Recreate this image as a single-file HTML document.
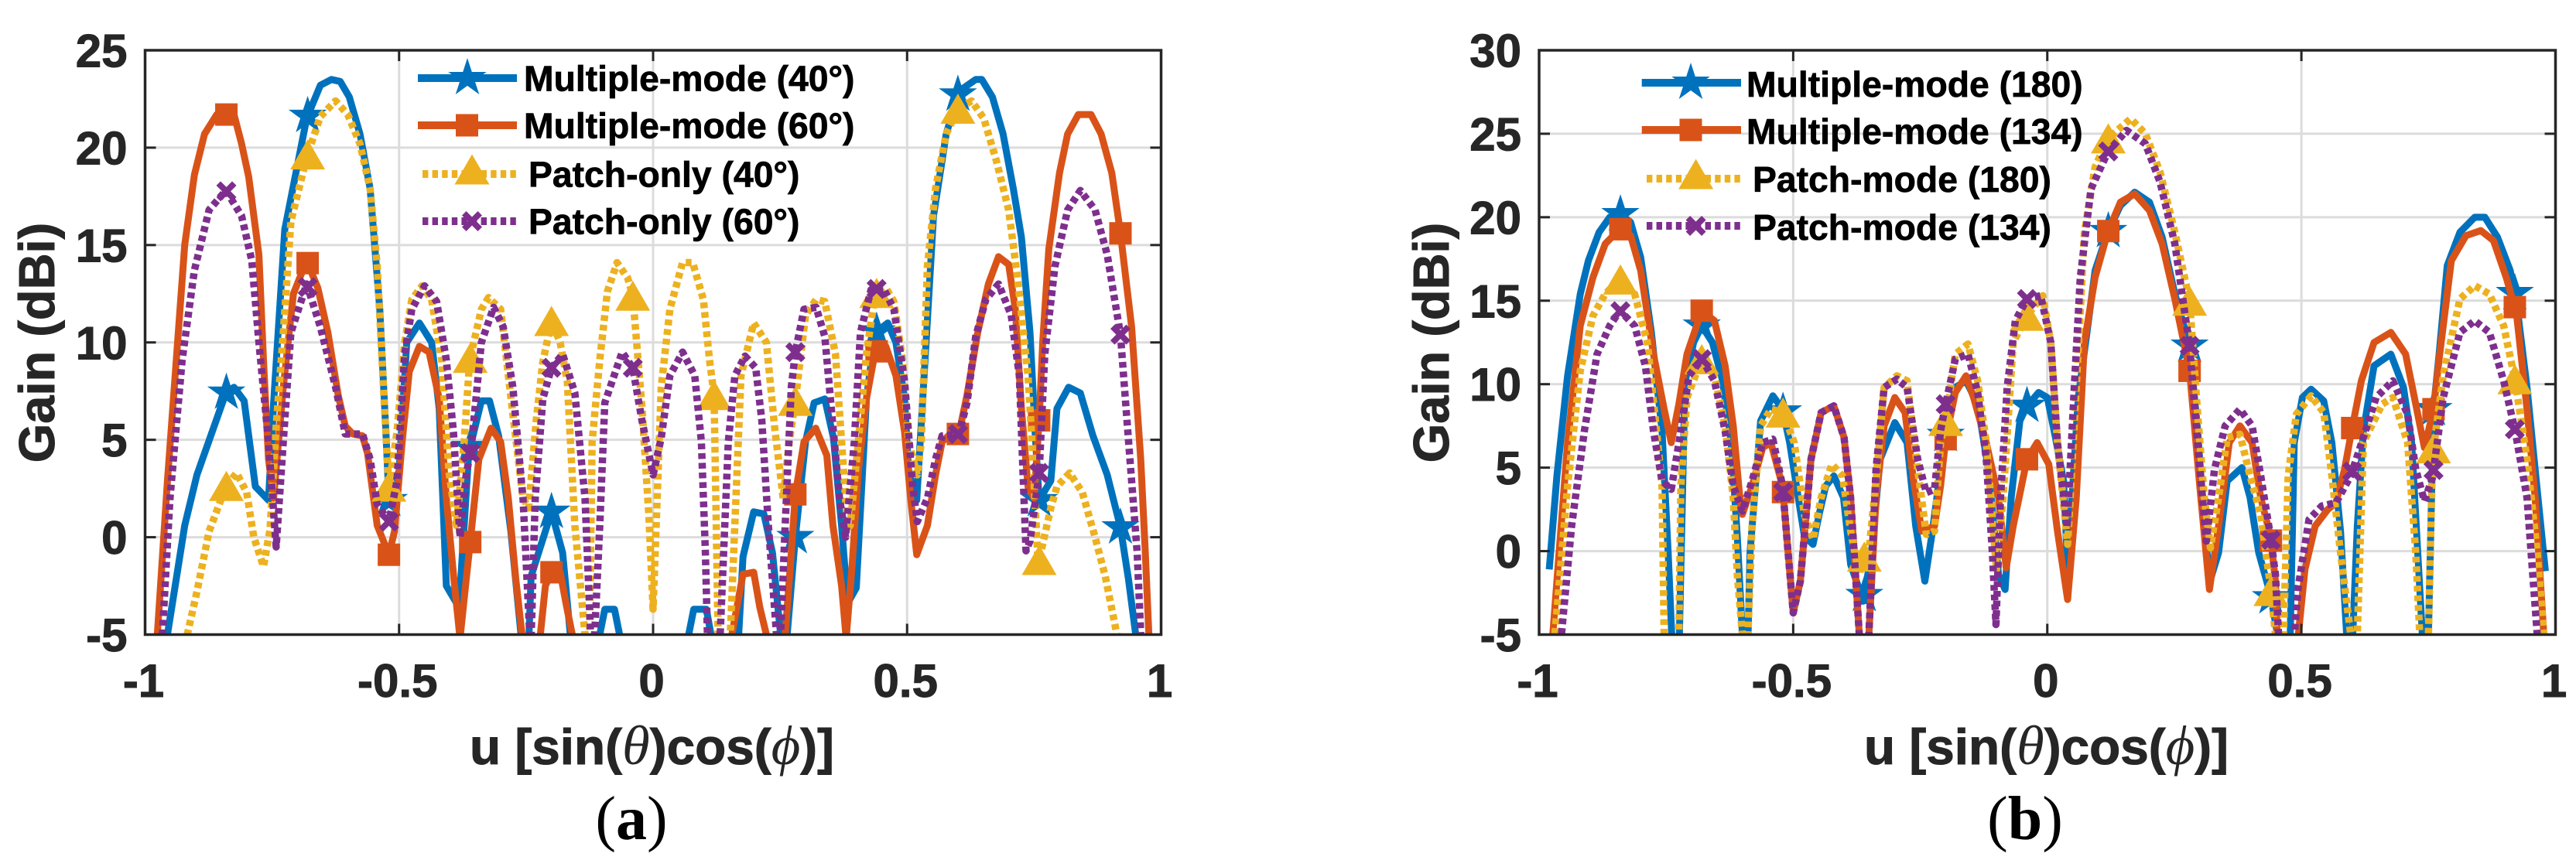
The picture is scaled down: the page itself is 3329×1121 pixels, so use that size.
<!DOCTYPE html>
<html lang="en">
<head>
<meta charset="utf-8">
<title>Gain patterns (a) and (b)</title>
<style>
html,body{margin:0;padding:0;background:#fff;}
svg{display:block;}
text{font-family:"Liberation Sans",sans-serif;font-weight:bold;}
.tick{font-size:60px;fill:#262626;stroke:#262626;stroke-width:1;}
.ttl{font-size:65px;fill:#262626;stroke:#262626;stroke-width:1;}
.leg{font-size:46.3px;fill:#000;stroke:#000;stroke-width:0.7;}
.cap{font-family:"Liberation Serif",serif;font-size:80px;fill:#000;font-weight:normal;}
.cap tspan.b{font-weight:bold;}
.gk{font-family:"Liberation Serif","DejaVu Serif",serif;font-style:italic;font-weight:normal;font-size:72px;stroke:none;}
</style>
</head>
<body>
<svg id="root" xmlns="http://www.w3.org/2000/svg" width="3329" height="1121" viewBox="0 0 3329 1121">
<rect x="0" y="0" width="3329" height="1121" fill="#fff"/>
<g id="panelA"></g>
<g id="panelB"></g>

<text class="ttl" transform="translate(70,443) rotate(-90)" text-anchor="middle">Gain (dBi)</text>
<text class="ttl" transform="translate(1872,443) rotate(-90)" text-anchor="middle">Gain (dBi)</text>
<text class="ttl" x="607" y="988" textLength="471" lengthAdjust="spacingAndGlyphs">u [sin(<tspan class="gk">θ</tspan>)cos(<tspan class="gk">ϕ</tspan>)]</text>
<text class="ttl" x="2409" y="988" textLength="471" lengthAdjust="spacingAndGlyphs">u [sin(<tspan class="gk">θ</tspan>)cos(<tspan class="gk">ϕ</tspan>)]</text>
<text class="cap" x="816" y="1085" text-anchor="middle">(<tspan class="b">a</tspan>)</text>
<text class="cap" x="2617" y="1085" text-anchor="middle">(<tspan class="b">b</tspan>)</text>

<g id="legendA">
<text class="leg" x="677" y="117.7">Multiple-mode (40°)</text>
<text class="leg" x="677" y="178.3">Multiple-mode (60°)</text>
<text class="leg" x="683" y="241.7">Patch-only (40°)</text>
<text class="leg" x="683" y="302.3">Patch-only (60°)</text>
</g>
<g id="legendB">
<text class="leg" x="2257" y="125">Multiple-mode (180)</text>
<text class="leg" x="2257" y="186">Multiple-mode (134)</text>
<text class="leg" x="2265" y="248">Patch-mode (180)</text>
<text class="leg" x="2265" y="310">Patch-mode (134)</text>
</g>
</svg>
<script>
// ---------- shared axis data ----------
const xTicks = [-1, -0.5, 0, 0.5, 1];
const xTickLabels = ['-1', '-0.5', '0', '0.5', '1'];
const yTicksA = [-5, 0, 5, 10, 15, 20, 25];
const yTickLabelsA = ['-5', '0', '5', '10', '15', '20', '25'];
const yTicksB = [-5, 0, 5, 10, 15, 20, 25, 30];
const yTickLabelsB = ['-5', '0', '5', '10', '15', '20', '25', '30'];
const markerU = [-0.84, -0.68, -0.52, -0.36, -0.2, -0.04, 0.12, 0.28, 0.44, 0.6, 0.76, 0.92];

// ---------- panel (a) ----------
const aMulti40U = [-0.97,-0.956,-0.922,-0.898,-0.841,-0.825,-0.805,-0.783,-0.757,-0.747,
-0.725,-0.682,-0.655,-0.633,-0.616,-0.598,-0.577,-0.557,-0.538,-0.526,
-0.52,-0.5,-0.485,-0.46,-0.436,-0.421,-0.407,-0.382,-0.363,-0.338,
-0.322,-0.304,-0.28,-0.26,-0.25,-0.24,-0.2,-0.178,-0.163,-0.13,
-0.115,-0.105,-0.095,-0.076,-0.066,-0.05,0.05,0.07,0.08,0.105,
0.114,0.13,0.16,0.177,0.198,0.218,0.235,0.251,0.258,0.264,
0.28,0.3,0.317,0.338,0.355,0.371,0.383,0.4,0.42,0.437,
0.462,0.478,0.495,0.503,0.519,0.536,0.552,0.577,0.602,0.635,
0.647,0.668,0.689,0.709,0.725,0.742,0.752,0.76,0.783,0.795,
0.818,0.841,0.866,0.894,0.92,0.936,0.95,0.965];
const aMulti40Gain = [-9,-5,0.6,3.2,7.4,7.7,7,2.6,1.9,6.9,
15.8,21.5,23.2,23.5,23.4,22.6,20.7,17.9,11.7,5.4,
1.9,3.4,10,11,10,6.6,-2.5,-3.6,4.3,7,
7,5.2,0.3,-5,-9,-2,1.3,-0.8,-5,-9,
-9,-5,-3.7,-3.7,-5,-9,-9,-5,-3.7,-3.7,
-5,-9,-9,-1,1.3,1.2,-0.8,-5,-9,-5,
0,4.9,6.9,7.1,5.1,0.6,-3.4,-2.6,7.1,10.5,
11,10,7.1,3.4,1.9,9.4,16.5,20.7,22.9,23.5,
23.5,22.6,20.7,17.9,15.4,10.5,5.4,1.9,2.9,6.6,
7.7,7.4,5.2,3.2,0.5,-2.2,-5,-9];

const aMulti60U = [-0.985,-0.976,-0.956,-0.922,-0.903,-0.883,-0.859,-0.841,-0.825,-0.81,
-0.796,-0.776,-0.767,-0.757,-0.747,-0.728,-0.708,-0.682,-0.66,-0.64,
-0.62,-0.606,-0.591,-0.572,-0.562,-0.543,-0.52,-0.509,-0.494,-0.48,
-0.46,-0.441,-0.421,-0.407,-0.392,-0.38,-0.368,-0.361,-0.343,-0.319,
-0.3,-0.285,-0.27,-0.258,-0.25,-0.23,-0.222,-0.212,-0.2,-0.183,
-0.17,-0.159,-0.14,0.14,0.155,0.177,0.198,0.21,0.223,0.235,
0.25,0.26,0.272,0.28,0.297,0.32,0.342,0.354,0.371,0.38,
0.392,0.404,0.42,0.437,0.458,0.478,0.495,0.507,0.519,0.54,
0.556,0.569,0.585,0.602,0.618,0.639,0.66,0.68,0.7,0.713,
0.725,0.738,0.75,0.76,0.767,0.779,0.8,0.816,0.837,0.862,
0.882,0.903,0.92,0.942,0.96,0.969,0.976,0.985];
const aMulti60Gain = [-9,-5,2.9,15,18.6,20.7,21.7,21.7,21.7,20.2,
18.5,14.5,9.1,4,2,7.7,12.5,14.2,12.8,10.5,
7.3,5.7,5.3,5.2,4.3,0.6,-0.9,0.3,4.9,8.5,
9.8,9.5,7.1,2,-2.2,-5.2,-2.2,-0.5,4,5.6,
4.9,2,-2.2,-5,-9,-9,-5,-2.5,-1.8,-1.8,
-3.6,-5,-9,-9,-5,-1.9,-1.8,-3.6,-5,-9,
-9,-5,-0.8,2.2,4.9,5.6,4.2,0.6,-2.5,-5.2,
-1.4,3.4,7.1,9.5,9.8,8.3,5.4,2,-0.9,0.6,
3.2,4.9,5.3,5.3,7.3,10.5,13,14.4,14,11.7,
6.6,2.6,2,6,10,14.8,18.7,20.7,21.7,21.7,
20.7,18.7,15.6,10.8,4,-0.8,-5,-9];

const aPatch40U = [-0.925,-0.917,-0.898,-0.874,-0.841,-0.82,-0.8,-0.786,-0.767,-0.754,
-0.742,-0.728,-0.713,-0.682,-0.655,-0.625,-0.601,-0.577,-0.557,-0.543,
-0.528,-0.52,-0.504,-0.489,-0.475,-0.455,-0.436,-0.416,-0.402,-0.387,
-0.372,-0.361,-0.338,-0.324,-0.3,-0.276,-0.256,-0.245,-0.23,-0.217,
-0.2,-0.183,-0.169,-0.154,-0.134,-0.131,-0.125,-0.12,-0.105,-0.09,
-0.071,-0.05,-0.04,-0.022,-0.008,0,0.016,0.033,0.058,0.078,
0.099,0.111,0.12,0.128,0.14,0.152,0.173,0.198,0.223,0.239,
0.256,0.268,0.28,0.3,0.321,0.338,0.359,0.371,0.383,0.388,
0.404,0.42,0.437,0.458,0.474,0.491,0.503,0.52,0.528,0.54,
0.556,0.577,0.6,0.627,0.651,0.676,0.7,0.717,0.738,0.746,
0.758,0.77,0.783,0.795,0.82,0.845,0.87,0.89,0.913,0.925];
const aPatch40Gain = [-9,-5,-2.8,0.3,2.6,3.3,2.3,0,-1.5,0.4,
5.7,10.5,16.2,19.5,21.6,22.4,21.7,20.2,17.9,13.9,
6.3,2.6,5.4,10,12.2,12.9,12.2,9.1,3.4,0.6,
4.9,9.1,11.7,12.3,11.7,6.3,2,1.5,6,9,
11.1,10,8,0.6,-5,-9,-5,4.9,9.1,12.6,
14.1,13.3,12.4,6.7,1,-3.7,7.7,11.7,14.1,14.1,
12.2,9.1,7.3,-5,-9,-5,8.3,11,10,5.7,
2,4.9,7,11.4,12.2,12.1,9.4,4.9,0.5,0.6,
4.9,9.4,12.5,12.8,12.1,9.1,4.9,3.2,4.9,13.9,
17.9,20.7,22,22.4,21.5,19.3,16.8,13.4,8.3,4.9,
-1.4,0,1.5,2.6,3.3,2.3,0,-2,-5,-9];

const aPatch60U = [-0.975,-0.966,-0.951,-0.927,-0.903,-0.874,-0.841,-0.81,-0.79,-0.776,
-0.757,-0.742,-0.728,-0.713,-0.682,-0.655,-0.625,-0.606,-0.572,-0.557,
-0.543,-0.52,-0.504,-0.489,-0.475,-0.45,-0.426,-0.407,-0.393,-0.38,
-0.368,-0.358,-0.338,-0.314,-0.295,-0.276,-0.256,-0.241,-0.232,-0.217,
-0.2,-0.178,-0.154,-0.134,-0.123,-0.119,-0.115,-0.105,-0.095,-0.061,
-0.04,-0.022,0,0.016,0.033,0.058,0.082,0.095,0.103,0.107,
0.12,0.132,0.148,0.161,0.181,0.202,0.214,0.227,0.243,0.247,
0.251,0.26,0.272,0.28,0.297,0.321,0.338,0.355,0.367,0.379,
0.396,0.408,0.429,0.453,0.474,0.495,0.511,0.52,0.54,0.556,
0.569,0.602,0.618,0.635,0.655,0.68,0.705,0.721,0.734,0.742,
0.76,0.771,0.791,0.816,0.841,0.87,0.894,0.92,0.936,0.953,
0.96,0.97];
const aPatch60Gain = [-9,-5,2,9.1,13.7,16.8,17.8,16.5,14.2,10,
4.9,-0.5,4.9,10.5,13,10.8,7.7,5.3,5.3,4,
1.7,0.8,2.9,9.4,11.7,12.9,12.1,9.1,5.4,0,
3.2,4.6,10,11.8,10.8,7.7,2,-6,2,7.1,
8.7,9.4,7.4,2,-5,-9,-5,0.6,6.9,9.5,
8.7,6,3.2,5.1,8.3,9.5,8.3,4.9,-0.8,-5,
-9,-5,4.9,8.3,9.3,8.7,6,0.6,-5,-9,
-5,0.6,7.7,9.5,11.7,11.8,10.3,5.4,2,0,
4.9,10.5,12.7,12.8,11.7,8,2.6,0.8,2,4,
5.2,5.3,6.9,10.3,12.2,13,11.4,8.3,-0.7,-0.2,
3.3,9.4,13.9,16.8,17.8,16.8,14.5,10.4,4.9,-0.8,
-5,-9];

// ---------- panel (b) ----------
const bMulti180U = [-0.98,-0.965,-0.944,-0.919,-0.903,-0.882,-0.861,-0.841,-0.82,-0.8,
-0.779,-0.758,-0.746,-0.739,-0.731,-0.724,-0.713,-0.696,-0.68,-0.659,
-0.639,-0.622,-0.61,-0.6,-0.592,-0.585,-0.564,-0.54,-0.521,-0.507,
-0.49,-0.478,-0.461,-0.449,-0.436,-0.42,-0.401,-0.387,-0.362,-0.346,
-0.329,-0.3,-0.276,-0.259,-0.241,-0.226,-0.21,-0.201,-0.181,-0.16,
-0.137,-0.116,-0.104,-0.096,-0.083,-0.071,-0.054,-0.04,-0.017,0,
0.016,0.032,0.04,0.061,0.078,0.094,0.119,0.144,0.172,0.201,
0.226,0.251,0.28,0.296,0.309,0.32,0.337,0.354,0.383,0.399,
0.416,0.439,0.453,0.465,0.478,0.486,0.502,0.519,0.544,0.56,
0.577,0.589,0.595,0.601,0.61,0.622,0.643,0.676,0.701,0.717,
0.729,0.738,0.744,0.75,0.76,0.771,0.787,0.812,0.841,0.861,
0.886,0.911,0.923,0.944,0.96,0.98];
const bMulti180Gain = [-1.1,4.5,10.5,15.4,17.4,19.1,20,20.2,19.7,17.6,
13.1,7.2,-0.1,-5,-9,-5,10.1,12.5,13.5,12.5,
10.2,6.5,0.9,-5,-9,-0.1,7.8,9.3,8.5,6.5,
3.2,0.9,0.4,2.2,3.9,4.5,3.2,-0.8,-3,-0.1,
5.5,7.7,6.5,1.5,-1.8,1.2,4.9,6.8,9.8,10.2,
8.8,4.9,1.2,-1.4,-2.3,3.2,7.8,8.7,9.5,9.2,
6.8,4.2,-1,9.2,13.1,16.8,19.1,20.7,21.5,20.9,
18.8,15.4,12.3,7.2,1.5,-1.8,-0.1,4.2,5,3.2,
-0.1,-2.6,-5,-9,-5,6.5,9.2,9.7,9,6.5,
1.2,-5,-9,-5,1.5,7.2,11.1,11.8,9.8,6.5,
-0.1,-5,-9,-5,8.5,11.8,17.1,19.1,20,20,
18.8,16.8,15,9.8,4.9,-1.2];

const bMulti134U = [-0.982,-0.973,-0.965,-0.944,-0.919,-0.894,-0.87,-0.841,-0.82,-0.8,
-0.775,-0.754,-0.74,-0.725,-0.709,-0.68,-0.655,-0.634,-0.618,-0.606,
-0.6,-0.581,-0.56,-0.544,-0.521,-0.51,-0.5,-0.486,-0.465,-0.445,
-0.42,-0.4,-0.387,-0.37,-0.362,-0.351,-0.337,-0.321,-0.3,-0.28,
-0.263,-0.247,-0.222,-0.21,-0.2,-0.181,-0.16,-0.145,-0.12,-0.096,
-0.081,-0.067,-0.04,-0.02,0.003,0.02,0.04,0.057,0.073,0.094,
0.119,0.144,0.172,0.201,0.226,0.251,0.28,0.3,0.319,0.337,
0.358,0.379,0.403,0.42,0.439,0.449,0.457,0.485,0.494,0.507,
0.527,0.552,0.568,0.585,0.597,0.618,0.643,0.676,0.705,0.725,
0.742,0.75,0.76,0.771,0.795,0.824,0.853,0.878,0.903,0.923,0.944,
0.96,0.977,0.985];
const bMulti134Gain = [-9,-5,-1.8,6.5,13.5,16.4,18.4,19.3,18.9,16.8,
11.8,8.5,6.5,8.8,11.8,14.4,13.8,11.1,7.5,3.5,
2.2,3.9,6.2,6.5,3.9,-0.1,-3.7,-1.8,5.5,8.3,
8.7,6.8,3.2,-5,-9,-5,3.2,7.5,9.2,8.3,
4.2,1.2,1.5,3.9,6.7,9.5,10.5,9.2,6.5,3.2,
-1,1.5,5.5,6.5,5.2,1.2,-2.9,3.2,12.5,16.4,
19.1,20.9,21.4,20.4,18.4,15.1,10.8,3.9,-2.3,1.5,
6.5,7.5,6.5,3.2,0.9,-1.8,-9,-9,-5,-1.1,
1.5,2.5,2.9,4.9,6.9,10.2,12.5,13.1,11.8,8.8,
6.2,7.2,8.5,11.5,17.4,18.9,19.2,18.6,16.4,14.3,8.5,
3.2,-5,-9];

const bPatch180U = [-0.98,-0.969,-0.944,-0.919,-0.894,-0.87,-0.841,-0.812,-0.787,-0.771,
-0.758,-0.754,-0.74,-0.725,-0.721,-0.709,-0.68,-0.655,-0.634,-0.618,
-0.61,-0.6,-0.595,-0.589,-0.581,-0.564,-0.544,-0.52,-0.498,-0.478,
-0.461,-0.445,-0.424,-0.403,-0.387,-0.37,-0.362,-0.351,-0.337,-0.321,
-0.296,-0.276,-0.255,-0.238,-0.222,-0.21,-0.2,-0.181,-0.156,-0.137,
-0.12,-0.1,-0.087,-0.067,-0.04,-0.009,0.007,0.02,0.04,0.057,
0.073,0.094,0.119,0.164,0.193,0.222,0.251,0.28,0.296,0.309,
0.321,0.337,0.354,0.379,0.399,0.42,0.439,0.449,0.457,0.465,
0.474,0.49,0.519,0.544,0.56,0.577,0.597,0.603,0.61,0.622,
0.659,0.68,0.709,0.725,0.733,0.742,0.75,0.758,0.779,0.812,
0.841,0.87,0.898,0.92,0.944,0.964,0.977,0.985];
const bPatch180Gain = [-9,-5,3.9,10.8,14.1,15.4,16.3,15.4,12.5,7.8,
3.9,-5,-9,-5,3.9,9.2,11.5,10.5,7.5,3.2,
-1.4,-5,-9,-5,1.5,7.5,8.5,8.3,6.5,2.2,
0.7,3.2,5.2,4.5,1.2,-1.4,-0.4,0,4.2,9.8,
10.5,10.2,4.9,1,1.2,6.5,7.8,11.8,12.4,10.2,
6.5,-1.1,3.2,12.5,14.1,15.3,12.5,6.5,0.4,9.8,
19.1,23,24.7,25.9,25,22.7,19.1,15,8.2,3.2,
0.2,3.2,6.8,7,4.5,2.2,-2.1,-5,-9,-5,
4.5,8.2,9.3,8.3,4.5,-0.1,-5,-9,-5,6.5,
8.8,9.2,6.5,-0.1,-5,-9,-5,5.7,10.5,15.1,
15.9,15.4,13.5,10.3,5.5,-0.1,-5,-9];

const bPatch134U = [-0.965,-0.956,-0.936,-0.911,-0.886,-0.861,-0.841,-0.812,-0.791,-0.775,
-0.758,-0.74,-0.721,-0.705,-0.68,-0.655,-0.634,-0.618,-0.6,-0.581,
-0.56,-0.54,-0.521,-0.51,-0.5,-0.486,-0.465,-0.445,-0.42,-0.4,
-0.387,-0.37,-0.362,-0.351,-0.337,-0.321,-0.296,-0.276,-0.255,-0.238,
-0.222,-0.21,-0.2,-0.181,-0.156,-0.137,-0.12,-0.108,-0.101,-0.092,
-0.079,-0.063,-0.04,-0.013,0.007,0.02,0.039,0.053,0.065,0.086,
0.119,0.156,0.193,0.222,0.251,0.28,0.296,0.313,0.329,0.35,
0.379,0.403,0.42,0.439,0.449,0.455,0.47,0.486,0.494,0.515,
0.54,0.568,0.597,0.622,0.647,0.68,0.709,0.725,0.742,0.758,
0.779,0.812,0.841,0.87,0.898,0.92,0.944,0.964,0.975];
const bPatch134Gain = [-9,-5,1.5,7.2,11.8,13.5,14.4,13.5,11.1,7.2,
4.2,3.7,7.2,10.5,11.5,10.2,7.2,3.9,2.4,4.2,
6.5,6.7,3.9,-0.1,-3.7,-1.8,5.5,8.3,8.7,6.8,
3.2,-5,-9,-5,4.9,9.8,10.3,9.8,5.5,3.5,
3.7,7.2,8.8,11.5,11.8,9.5,5.5,-0.1,-4.4,3.2,
9.8,13.8,15.1,15.3,12.5,6.5,1.4,9.8,16.4,21.7,
23.9,25.2,24.4,22.1,18.4,12.3,6.5,0.6,4.9,7.5,
8.5,7.5,4.5,0.9,-1.4,-5,-9,-5,-2.1,1.9,
2.7,2.9,4.5,6.8,9.2,10.2,8.2,4.9,3,4.4,
9.2,13.1,13.8,13.1,10.2,7.3,3.2,-5,-9];

// ---------- styling ----------
const NS = 'http://www.w3.org/2000/svg';
const BLUE = '#0072BD', RED = '#D95319', YEL = '#EDB120', PUR = '#7E2F8E', INK = '#262626';

function make(tag, parent, attrs) {
  const el = document.createElementNS(NS, tag);
  for (const k in attrs) el.setAttribute(k, attrs[k]);
  parent.appendChild(el);
  return el;
}

function interp(us, gs, u) {
  for (let i = 1; i < us.length; i++) {
    if (us[i] >= u) {
      const t = (u - us[i - 1]) / (us[i] - us[i - 1]);
      return gs[i - 1] + t * (gs[i] - gs[i - 1]);
    }
  }
  return -99;
}

function drawMarker(parent, kind, cx, cy, color) {
  let el;
  if (kind === 'star') {
    const R = 26, r = R * 0.382, pts = [];
    for (let i = 0; i < 10; i++) {
      const rad = i % 2 ? r : R, a = -Math.PI / 2 + i * Math.PI / 5;
      pts.push((cx + rad * Math.cos(a)).toFixed(1) + ',' + (cy + rad * Math.sin(a)).toFixed(1));
    }
    el = make('polygon', parent, { points: pts.join(' '), fill: color });
  } else if (kind === 'square') {
    el = make('rect', parent, { x: cx - 14.5, y: cy - 14.5, width: 29, height: 29, fill: color });
  } else if (kind === 'triangle') {
    el = make('polygon', parent, { points: (cx - 22.5) + ',' + (cy + 19.5) + ' ' + (cx + 22.5) + ',' + (cy + 19.5) + ' ' + cx + ',' + (cy - 19.5), fill: color });
  } else {
    const s = 13, t = 5.5;
    const pts = [[-s, -s + t], [-s + t, -s], [0, -t], [s - t, -s], [s, -s + t], [t, 0], [s, s - t], [s - t, s], [0, t], [-s + t, s], [-s, s - t], [-t, 0]];
    el = make('polygon', parent, { points: pts.map(p => (cx + p[0]) + ',' + (cy + p[1])).join(' '), fill: color });
  }
  
  
  return el;
}

function drawPanel(cfg) {
  const g = document.getElementById(cfg.id);
  const L = cfg.left, R = cfg.right, T = 65, B = 820.5;
  const yMin = cfg.yTicks[0], yMax = cfg.yTicks[cfg.yTicks.length - 1];
  const xScale = u => L + (u + 1) / 2 * (R - L);
  const yScale = v => B - (v - yMin) / (yMax - yMin) * (B - T);

  const clip = make('clipPath', g, { id: cfg.id + 'Clip' });
  make('rect', clip, { x: L, y: T, width: R - L, height: B - T });

  xTicks.forEach(function (t) {
    const gl = make('line', g, { x1: xScale(t), x2: xScale(t), y1: T, y2: B, stroke: '#dcdcdc', 'stroke-width': 3 });
    
    
  });
  cfg.yTicks.forEach(function (t) {
    const gl = make('line', g, { x1: L, x2: R, y1: yScale(t), y2: yScale(t), stroke: '#dcdcdc', 'stroke-width': 3 });
    
    
  });

  const plot = make('g', g, { 'clip-path': 'url(#' + cfg.id + 'Clip)' });
  cfg.series.forEach(function (s) {
    const pts = s.u.map((u, i) => xScale(u).toFixed(1) + ',' + yScale(s.g[i]).toFixed(1)).join(' ');
    const attrs = { points: pts, fill: 'none', stroke: s.color, 'stroke-width': s.dotted ? 9.5 : 9, 'stroke-linejoin': 'round' };
    if (s.dotted) attrs['stroke-dasharray'] = '7.5 5';
    const line = make('polyline', plot, attrs);
    
    
    markerU.forEach(function (u) {
      const v = interp(s.u, s.g, u);
      if (v >= yMin) drawMarker(plot, s.marker, xScale(u), yScale(v), s.color);
    });
  });

  make('rect', g, { x: L, y: T, width: R - L, height: B - T, fill: 'none', stroke: INK, 'stroke-width': 3.5 });
  xTicks.forEach(function (t, i) {
    const x = xScale(t);
    make('line', g, { x1: x, x2: x, y1: T, y2: T + 14, stroke: INK, 'stroke-width': 3 });
    make('line', g, { x1: x, x2: x, y1: B, y2: B - 14, stroke: INK, 'stroke-width': 3 });
    const lab = make('text', g, { x: x - 2, y: 901, class: 'tick', 'text-anchor': 'middle' });
    lab.textContent = xTickLabels[i];
    
    
  });
  cfg.yTicks.forEach(function (t, i) {
    const y = yScale(t);
    make('line', g, { x1: L, x2: L + 14, y1: y, y2: y, stroke: INK, 'stroke-width': 3 });
    make('line', g, { x1: R, x2: R - 14, y1: y, y2: y, stroke: INK, 'stroke-width': 3 });
    const lab = make('text', g, { x: L - 23, y: y + 21.5, class: 'tick', 'text-anchor': 'end' });
    lab.textContent = cfg.yLabels[i];
    
    
  });
}

function drawLegend(id, rows) {
  const g = document.getElementById(id);
  rows.forEach(function (r) {
    const attrs = { x1: r.x1, x2: r.x2, y1: r.y, y2: r.y, stroke: r.color, 'stroke-width': 10 };
    if (r.dotted) attrs['stroke-dasharray'] = '7.4 5.2';
    const line = make('line', g, attrs);
    
    
    drawMarker(g, r.marker, r.mx, r.y + (r.marker === 'triangle' ? -6 : 0), r.color);
  });
}

drawPanel({
  id: 'panelA', left: 187.5, right: 1500.5, yTicks: yTicksA, yLabels: yTickLabelsA,
  series: [
    { name: 'multiple-mode-40', u: aMulti40U, g: aMulti40Gain, color: BLUE, marker: 'star', dotted: false },
    { name: 'multiple-mode-60', u: aMulti60U, g: aMulti60Gain, color: RED, marker: 'square', dotted: false },
    { name: 'patch-only-40', u: aPatch40U, g: aPatch40Gain, color: YEL, marker: 'triangle', dotted: true },
    { name: 'patch-only-60', u: aPatch60U, g: aPatch60Gain, color: PUR, marker: 'cross', dotted: true }
  ]
});
drawPanel({
  id: 'panelB', left: 1989, right: 3302.5, yTicks: yTicksB, yLabels: yTickLabelsB,
  series: [
    { name: 'multiple-mode-180', u: bMulti180U, g: bMulti180Gain, color: BLUE, marker: 'star', dotted: false },
    { name: 'multiple-mode-134', u: bMulti134U, g: bMulti134Gain, color: RED, marker: 'square', dotted: false },
    { name: 'patch-mode-180', u: bPatch180U, g: bPatch180Gain, color: YEL, marker: 'triangle', dotted: true },
    { name: 'patch-mode-134', u: bPatch134U, g: bPatch134Gain, color: PUR, marker: 'cross', dotted: true }
  ]
});
drawLegend('legendA', [
  { x1: 540, x2: 668, y: 101, mx: 604, color: BLUE, marker: 'star', dotted: false },
  { x1: 540, x2: 668, y: 162, mx: 603.5, color: RED, marker: 'square', dotted: false },
  { x1: 546, x2: 668, y: 225, mx: 610, color: YEL, marker: 'triangle', dotted: true },
  { x1: 546, x2: 668, y: 286, mx: 610, color: PUR, marker: 'cross', dotted: true }
]);
drawLegend('legendB', [
  { x1: 2121.7, x2: 2250, y: 107, mx: 2185, color: BLUE, marker: 'star', dotted: false },
  { x1: 2121.7, x2: 2250, y: 168, mx: 2185, color: RED, marker: 'square', dotted: false },
  { x1: 2128, x2: 2250, y: 231, mx: 2191.6, color: YEL, marker: 'triangle', dotted: true },
  { x1: 2128, x2: 2250, y: 292, mx: 2191.6, color: PUR, marker: 'cross', dotted: true }
]);
</script>
</body>
</html>
